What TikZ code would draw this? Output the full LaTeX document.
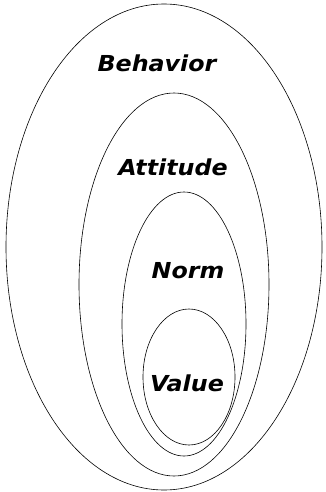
\documentclass[tikz,border=0pt]{standalone}
\usepackage{fontspec}
\setmainfont{DejaVu Sans}
\usepackage{tikz}

\begin{document}
\begin{tikzpicture}[x=1pt,y=-1pt,
    ring/.style={line width=0.6pt, black},
    lbl/.style={font=\fontsize{22}{26}\selectfont\bfseries\itshape, xscale=1.08}]
\useasboundingbox (0,0) rectangle (326,492);
% Nested rings, outer to inner
\draw[ring] (164,247) ellipse [x radius=158, y radius=243];
\draw[ring] (174,284.5) ellipse [x radius=95, y radius=191.5];
\draw[ring] (184,324) ellipse [x radius=62, y radius=132];
\draw[ring] (189,377) ellipse [x radius=46, y radius=68];

% Labels
\node[lbl] (behavior) at (157,63) {Behavior};
\node[lbl] (attitude) at (173,167) {Attitude};
\node[lbl] (norm) at (188,271) {Norm};
\node[lbl] (value) at (187,383) {Value};
\end{tikzpicture}
\end{document}
